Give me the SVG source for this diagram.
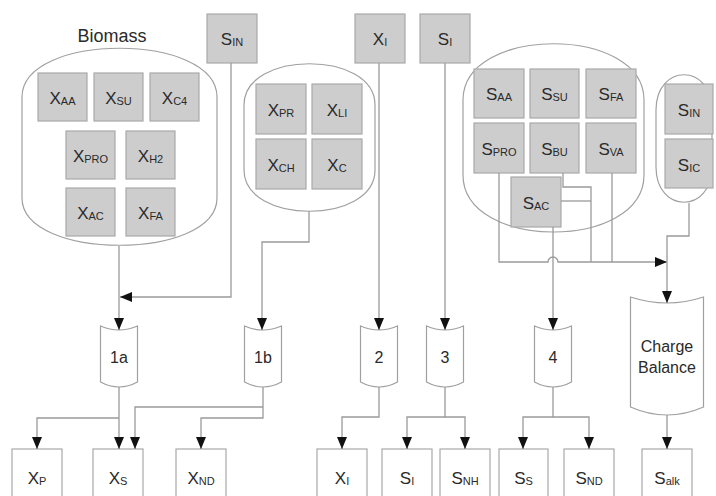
<svg xmlns="http://www.w3.org/2000/svg" width="716" height="496" viewBox="0 0 716 496">
<style>
.bx{fill:#cdcdcd;stroke:#a9a9a9;stroke-width:1.2}
.wb{fill:#fff;stroke:#a9a9a9;stroke-width:1.2}
.ct{fill:none;stroke:#a0a0a0;stroke-width:1.2}
.pr{fill:#fff;stroke:#a0a0a0;stroke-width:1.2}
.ln{fill:none;stroke:#9a9a9a;stroke-width:1.3}
.lb{font-family:"Liberation Sans",Arial,sans-serif;font-size:17px;fill:#2a2a2a;text-anchor:middle}
.sb{font-size:11px}
.pt{font-family:"Liberation Sans",Arial,sans-serif;font-size:16px;fill:#2a2a2a;text-anchor:middle}
</style>
<defs>
<marker id="ah" viewBox="0 0 12 10" refX="12" refY="5" markerWidth="12" markerHeight="10" markerUnits="userSpaceOnUse" orient="auto">
<path d="M0,0 L12,5 L0,10 Z" fill="#111"/>
</marker>
</defs>

<g id="biomass">
<text x="112" y="42" class="pt" style="font-size:18px">Biomass</text>
<path class="ct" d="M22,97 C22,32 217,32 217,97 L217,198 C217,261 22,261 22,198 Z"/>
</g>
<g id="xaa"><rect class="bx" x="38" y="73" width="49" height="48"/><text x="62.5" y="104" class="lb">X<tspan class="sb" dy="1">AA</tspan></text></g>
<g id="xsu"><rect class="bx" x="94" y="73" width="49" height="48"/><text x="118.5" y="104" class="lb">X<tspan class="sb" dy="1">SU</tspan></text></g>
<g id="xc4"><rect class="bx" x="150" y="73" width="49" height="48"/><text x="174.5" y="104" class="lb">X<tspan class="sb" dy="1">C4</tspan></text></g>
<g id="xpro"><rect class="bx" x="66" y="131" width="49" height="48"/><text x="90.5" y="162" class="lb">X<tspan class="sb" dy="1">PRO</tspan></text></g>
<g id="xh2"><rect class="bx" x="126" y="131" width="49" height="48"/><text x="150.5" y="162" class="lb">X<tspan class="sb" dy="1">H2</tspan></text></g>
<g id="xac"><rect class="bx" x="66" y="188" width="49" height="48"/><text x="90.5" y="219" class="lb">X<tspan class="sb" dy="1">AC</tspan></text></g>
<g id="xfa"><rect class="bx" x="126" y="188" width="49" height="48"/><text x="150.5" y="219" class="lb">X<tspan class="sb" dy="1">FA</tspan></text></g>

<g id="sin_top"><rect class="bx" x="207" y="14" width="50" height="49"/><text x="232" y="45" class="lb">S<tspan class="sb" dy="1">IN</tspan></text></g>

<g id="composites"><path class="ct" d="M244,105 C244,50 375,50 375,105 L375,170 C375,225 244,225 244,170 Z"/></g>
<g id="xpr"><rect class="bx" x="256" y="84" width="50" height="50"/><text x="281" y="116" class="lb">X<tspan class="sb" dy="1">PR</tspan></text></g>
<g id="xli"><rect class="bx" x="312" y="84" width="50" height="50"/><text x="337" y="116" class="lb">X<tspan class="sb" dy="1">LI</tspan></text></g>
<g id="xch"><rect class="bx" x="256" y="139" width="50" height="50"/><text x="281" y="171" class="lb">X<tspan class="sb" dy="1">CH</tspan></text></g>
<g id="xc"><rect class="bx" x="312" y="139" width="50" height="50"/><text x="337" y="171" class="lb">X<tspan class="sb" dy="1">C</tspan></text></g>

<g id="xi_top"><rect class="bx" x="355" y="14" width="50" height="49"/><text x="380" y="45" class="lb">X<tspan class="sb" dy="1">I</tspan></text></g>
<g id="si_top"><rect class="bx" x="420" y="14" width="50" height="49"/><text x="445" y="45" class="lb">S<tspan class="sb" dy="1">I</tspan></text></g>

<g id="solubles"><path class="ct" d="M463,100 C463,25 644,25 644,100 L644,175 C644,251 463,251 463,175 Z"/></g>
<g id="saa"><rect class="bx" x="474" y="69" width="50" height="49"/><text x="499" y="100" class="lb">S<tspan class="sb" dy="1">AA</tspan></text></g>
<g id="ssu"><rect class="bx" x="530" y="69" width="49" height="49"/><text x="554.5" y="100" class="lb">S<tspan class="sb" dy="1">SU</tspan></text></g>
<g id="sfa"><rect class="bx" x="586" y="69" width="50" height="49"/><text x="611" y="100" class="lb">S<tspan class="sb" dy="1">FA</tspan></text></g>
<g id="spro"><rect class="bx" x="474" y="123" width="50" height="50"/><text x="499" y="155" class="lb">S<tspan class="sb" dy="1">PRO</tspan></text></g>
<g id="sbu"><rect class="bx" x="530" y="123" width="49" height="50"/><text x="554.5" y="155" class="lb">S<tspan class="sb" dy="1">BU</tspan></text></g>
<g id="sva"><rect class="bx" x="586" y="123" width="50" height="50"/><text x="611" y="155" class="lb">S<tspan class="sb" dy="1">VA</tspan></text></g>
<g id="sac"><rect class="bx" x="511" y="177" width="50" height="50"/><text x="536" y="209" class="lb">S<tspan class="sb" dy="1">AC</tspan></text></g>

<g id="inorganic"><path class="ct" d="M656,110 C656,63 712,63 712,110 L712,167 C712,214 656,214 656,167 Z"/></g>
<g id="sin"><rect class="bx" x="665" y="84" width="48" height="50"/><text x="689" y="116" class="lb">S<tspan class="sb" dy="1">IN</tspan></text></g>
<g id="sic"><rect class="bx" x="665" y="139" width="48" height="49"/><text x="689" y="171" class="lb">S<tspan class="sb" dy="1">IC</tspan></text></g>

<g id="p1a"><path class="pr" transform="translate(119,326)" d="M-18.5,0 Q0,8 18.5,0 L18.5,56 Q0,66 -18.5,56 Z"/><text x="119" y="363" class="pt">1a</text></g>
<g id="p1b"><path class="pr" transform="translate(263,326)" d="M-18.5,0 Q0,8 18.5,0 L18.5,56 Q0,66 -18.5,56 Z"/><text x="263" y="363" class="pt">1b</text></g>
<g id="p2"><path class="pr" transform="translate(379,326)" d="M-18.5,0 Q0,8 18.5,0 L18.5,56 Q0,66 -18.5,56 Z"/><text x="379" y="363" class="pt">2</text></g>
<g id="p3"><path class="pr" transform="translate(445,326)" d="M-18.5,0 Q0,8 18.5,0 L18.5,56 Q0,66 -18.5,56 Z"/><text x="445" y="363" class="pt">3</text></g>
<g id="p4"><path class="pr" transform="translate(553,326)" d="M-18.5,0 Q0,8 18.5,0 L18.5,56 Q0,66 -18.5,56 Z"/><text x="553" y="363" class="pt">4</text></g>
<g id="charge"><path class="pr" transform="translate(667,297)" d="M-36.5,0 Q0,12 36.5,0 L36.5,110 Q0,126 -36.5,110 Z"/><text x="667" y="352" class="pt">Charge</text><text x="667" y="373" class="pt">Balance</text></g>

<g id="xp"><rect class="wb" x="12" y="449" width="50" height="50"/><text x="37" y="484" class="lb">X<tspan class="sb" dy="1">P</tspan></text></g>
<g id="xs"><rect class="wb" x="93" y="449" width="50" height="50"/><text x="118" y="484" class="lb">X<tspan class="sb" dy="1">S</tspan></text></g>
<g id="xnd"><rect class="wb" x="176" y="449" width="50" height="50"/><text x="201" y="484" class="lb">X<tspan class="sb" dy="1">ND</tspan></text></g>
<g id="xi"><rect class="wb" x="317" y="449" width="50" height="50"/><text x="342" y="484" class="lb">X<tspan class="sb" dy="1">I</tspan></text></g>
<g id="si"><rect class="wb" x="382" y="449" width="50" height="50"/><text x="407" y="484" class="lb">S<tspan class="sb" dy="1">I</tspan></text></g>
<g id="snh"><rect class="wb" x="440" y="449" width="50" height="50"/><text x="465" y="484" class="lb">S<tspan class="sb" dy="1">NH</tspan></text></g>
<g id="ss"><rect class="wb" x="499" y="449" width="49" height="50"/><text x="523.5" y="484" class="lb">S<tspan class="sb" dy="1">S</tspan></text></g>
<g id="snd"><rect class="wb" x="564" y="449" width="50" height="50"/><text x="589" y="484" class="lb">S<tspan class="sb" dy="1">ND</tspan></text></g>
<g id="salk"><rect class="wb" x="642" y="449" width="50" height="50"/><text x="667" y="484" class="lb">S<tspan class="sb" dy="1">alk</tspan></text></g>

<g id="connectors">
<path class="ln" d="M119,246 L119,330" marker-end="url(#ah)"/>
<path class="ln" d="M231,63 L231,297 L120,297" marker-end="url(#ah)"/>
<path class="ln" d="M309,211 L309,242 L262,242 L262,330" marker-end="url(#ah)"/>
<path class="ln" d="M379,63 L379,330" marker-end="url(#ah)"/>
<path class="ln" d="M445,63 L445,330" marker-end="url(#ah)"/>
<path class="ln" d="M499,173 L499,262 L548,262 A5,5 0 0 1 558,262 L667,262" marker-end="url(#ah)"/>
<path class="ln" d="M563,173 L563,187 L591,187 L591,262"/>
<path class="ln" d="M561,201 L591,201"/>
<path class="ln" d="M612,173 L612,262"/>
<path class="ln" d="M553,227 L553,330" marker-end="url(#ah)"/>
<path class="ln" d="M689,203 L689,236 L667,236 L667,303" marker-end="url(#ah)"/>
<path class="ln" d="M119,387 L119,449" marker-end="url(#ah)"/>
<path class="ln" d="M119,418 L37,418 L37,449" marker-end="url(#ah)"/>
<path class="ln" d="M263,387 L263,418 L201,418 L201,449" marker-end="url(#ah)"/>
<path class="ln" d="M263,407 L135,407 L135,449" marker-end="url(#ah)"/>
<path class="ln" d="M379,387 L379,417 L342,417 L342,449" marker-end="url(#ah)"/>
<path class="ln" d="M445,387 L445,417 L407,417 L407,449" marker-end="url(#ah)"/>
<path class="ln" d="M445,417 L465,417 L465,449" marker-end="url(#ah)"/>
<path class="ln" d="M553,387 L553,417 L523,417 L523,449" marker-end="url(#ah)"/>
<path class="ln" d="M553,417 L589,417 L589,449" marker-end="url(#ah)"/>
<path class="ln" d="M667,415 L667,449" marker-end="url(#ah)"/>
</g>
</svg>
